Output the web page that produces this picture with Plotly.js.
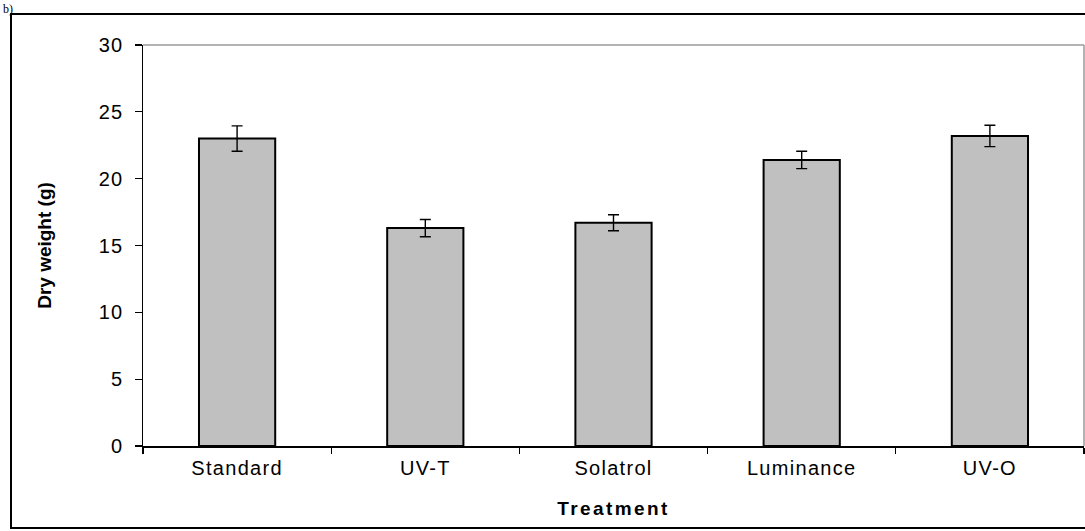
<!DOCTYPE html>
<html>
<head>
<meta charset="utf-8">
<script src="https://cdn.plot.ly/plotly-3.0.1.min.js"></script>
<style>
  html, body { margin: 0; padding: 0; background: #fff; }
  #chart { width: 1085px; height: 531px; }
  .xtitle { letter-spacing: 2.4px; }
  .xtick text, .ytick text { letter-spacing: 1.3px; }
</style>
</head>
<body>
<div id="chart"></div>
<script>
// Dry weight per greenhouse film treatment (mean ± error)
const treatments = ['Standard', 'UV-T', 'Solatrol', 'Luminance', 'UV-O'];
const dryWeight  = [23.0, 16.3, 16.7, 21.4, 23.2];
const errorBars  = [0.95, 0.65, 0.6, 0.65, 0.8];
const yTicks     = [0, 5, 10, 15, 20, 25, 30];

const W = 1085, H = 531;
const M = { l: 143, r: 1, t: 45, b: 85 };
const plotW = W - M.l - M.r, plotH = H - M.t - M.b;
// helpers to turn page pixels into paper coordinates for frame shapes
const px = x => (x - M.l) / plotW;
const py = y => (H - M.b - y) / plotH;

const font = { family: '"Liberation Sans", Arial, sans-serif', color: '#000' };

const trace = {
  type: 'bar',
  x: treatments,
  y: dryWeight,
  width: 0.405,
  marker: { color: '#c0c0c0', line: { color: '#000', width: 2 } },
  error_y: { type: 'data', array: errorBars, visible: true, color: '#000', thickness: 1.4, width: 5.5 },
  hoverinfo: 'skip'
};

const layout = {
  width: W, height: H,
  margin: M,
  paper_bgcolor: '#fff',
  plot_bgcolor: '#fff',
  showlegend: false,
  font: Object.assign({ size: 20 }, font),
  xaxis: {
    type: 'category',
    tickson: 'boundaries',
    ticks: 'outside', ticklen: 6, tickwidth: 1.3, tickcolor: '#000',
    ticklabelstandoff: 3,
    showline: true, linecolor: '#000', linewidth: 1.5,
    showgrid: false, zeroline: false,
    tickfont: Object.assign({ size: 20 }, font),
    title: { text: '<b>Treatment</b>', standoff: 24, font: Object.assign({ size: 19 }, font) },
    automargin: false
  },
  yaxis: {
    range: [0, 30],
    tickvals: yTicks,
    ticktext: yTicks.map(String),
    ticks: 'outside', ticklen: 7, tickwidth: 1.3, tickcolor: '#000',
    ticklabelstandoff: 7,
    showline: true, linecolor: '#000', linewidth: 1.5,
    showgrid: false, zeroline: false,
    tickfont: Object.assign({ size: 20 }, font),
    title: { text: '<b>Dry weight (g)</b>', standoff: 42, font: Object.assign({ size: 19 }, font) },
    automargin: false
  },
  shapes: [
    // light frame on the top and right of the plot area
    { type: 'line', xref: 'paper', yref: 'paper', x0: 0, x1: 1, y0: 1, y1: 1,
      line: { color: '#9a9a9a', width: 1.5 } },
    { type: 'line', xref: 'paper', yref: 'paper', x0: 1, x1: 1, y0: 0, y1: 1,
      line: { color: '#9a9a9a', width: 1.5 } },
    // outer border of the figure panel
    { type: 'rect', xref: 'paper', yref: 'paper', layer: 'below',
      x0: px(11), x1: px(1100), y0: py(528), y1: py(14),
      line: { color: '#000', width: 2 }, fillcolor: 'rgba(0,0,0,0)' }
  ],
  annotations: [
    { text: 'b)', xref: 'paper', yref: 'paper', x: px(1), y: py(0),
      xanchor: 'left', yanchor: 'top', showarrow: false,
      font: { family: '"Liberation Serif", "Times New Roman", serif', size: 12, color: '#000' } }
  ]
};

Plotly.newPlot('chart', [trace], layout, { displayModeBar: false, staticPlot: true });
</script>
</body>
</html>
